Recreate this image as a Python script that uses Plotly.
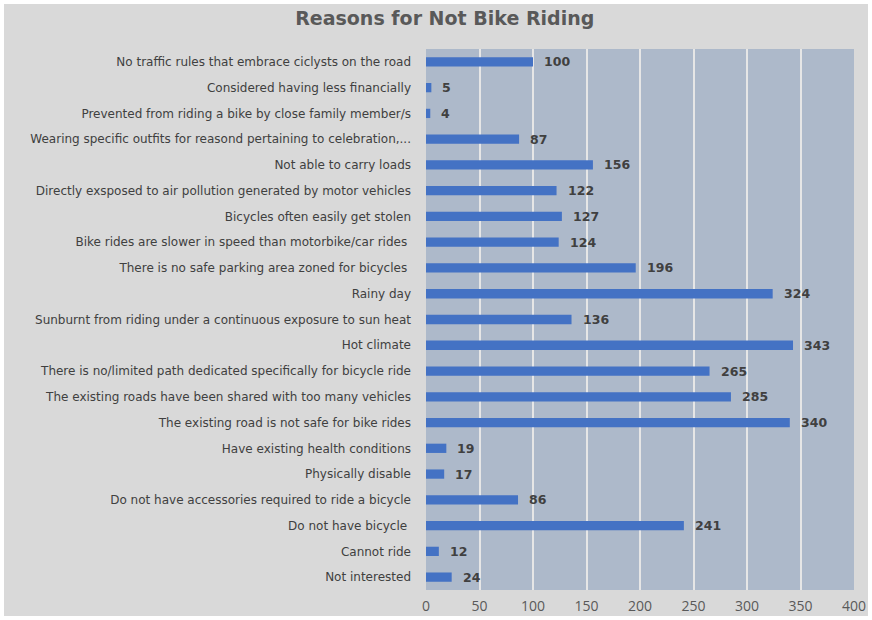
import plotly.graph_objects as go

categories = [
    "Not interested",
    "Cannot ride",
    "Do not have bicycle ",
    "Do not have accessories required to ride a bicycle",
    "Physically disable",
    "Have existing health conditions",
    "The existing road is not safe for bike rides",
    "The existing roads have been shared with too many vehicles",
    "There is no/limited path dedicated specifically for bicycle ride",
    "Hot climate",
    "Sunburnt from riding under a continuous exposure to sun heat",
    "Rainy day",
    "There is no safe parking area zoned for bicycles ",
    "Bike rides are slower in speed than motorbike/car rides ",
    "Bicycles often easily get stolen",
    "Directly exsposed to air pollution generated by motor vehicles",
    "Not able to carry loads",
    "Wearing specific outfits for reasond pertaining to celebration,...",
    "Prevented from riding a bike by close family member/s",
    "Considered having less financially",
    "No traffic rules that embrace ciclysts on the road",
]
values = [24, 12, 241, 86, 17, 19, 340, 285, 265, 343, 136, 324, 196, 124, 127, 122, 156, 87, 4, 5, 100]
x_ticks = [0, 50, 100, 150, 200, 250, 300, 350, 400]

BG = "#d9d9d9"
PLOT_BG = "#adb9ca"
BAR = "#4472c4"

fig = go.Figure()
fig.add_trace(go.Bar(
    x=values, y=categories, orientation="h",
    marker=dict(color=BAR, line=dict(width=0)),
    hoverinfo="x+y",
))

for c, v in zip(categories, values):
    fig.add_annotation(
        x=v, y=c, xref="x", yref="y", text=f"<b>{v}</b>",
        showarrow=False, xanchor="left", xshift=9,
        font=dict(family="DejaVu Sans, sans-serif", size=12.5, color="#404040"),
    )

# outer grey panel with white border, and blue-grey plot area
fig.add_shape(type="rect", xref="paper", yref="paper", layer="below",
              x0=-0.986, x1=1.0327, y0=-0.048, y1=1.0832,
              fillcolor=BG, line=dict(width=0))
fig.add_shape(type="rect", xref="paper", yref="paper", layer="below",
              x0=0, x1=1, y0=0, y1=1,
              fillcolor=PLOT_BG, line=dict(width=0))

fig.update_layout(
    width=872, height=620,
    margin=dict(l=426, r=18, t=49, b=30, autoexpand=False),
    paper_bgcolor="white",
    plot_bgcolor=PLOT_BG,
    bargap=0.64,
    showlegend=False,
    title=dict(
        text="<b>Reasons for Not Bike Riding</b>",
        x=0.51, xanchor="center", y=0.97, yanchor="middle",
        font=dict(family="DejaVu Sans, sans-serif", size=19, color="#595959"),
    ),
    xaxis=dict(
        range=[0, 400], tickvals=x_ticks, ticktext=[str(t) for t in x_ticks],
        showgrid=True, gridcolor="#e6e6e6", gridwidth=1.5,
        zeroline=False, showline=False, ticks="", automargin=False,
        ticklabelstandoff=6,
        tickfont=dict(family="Open Sans, sans-serif", size=14, color="#595959"),
        fixedrange=True,
    ),
    yaxis=dict(
        categoryorder="array", categoryarray=categories,
        showgrid=False, zeroline=False, showline=False, ticks="", automargin=False,
        ticklabelstandoff=14,
        tickfont=dict(family="DejaVu Sans, sans-serif", size=12, color="#404040"),
        fixedrange=True,
    ),
)

fig.write_html(
    "out.html",
    config={"displayModeBar": False},
    post_script="document.body.style.margin='0';document.body.style.overflow='hidden';",
)
